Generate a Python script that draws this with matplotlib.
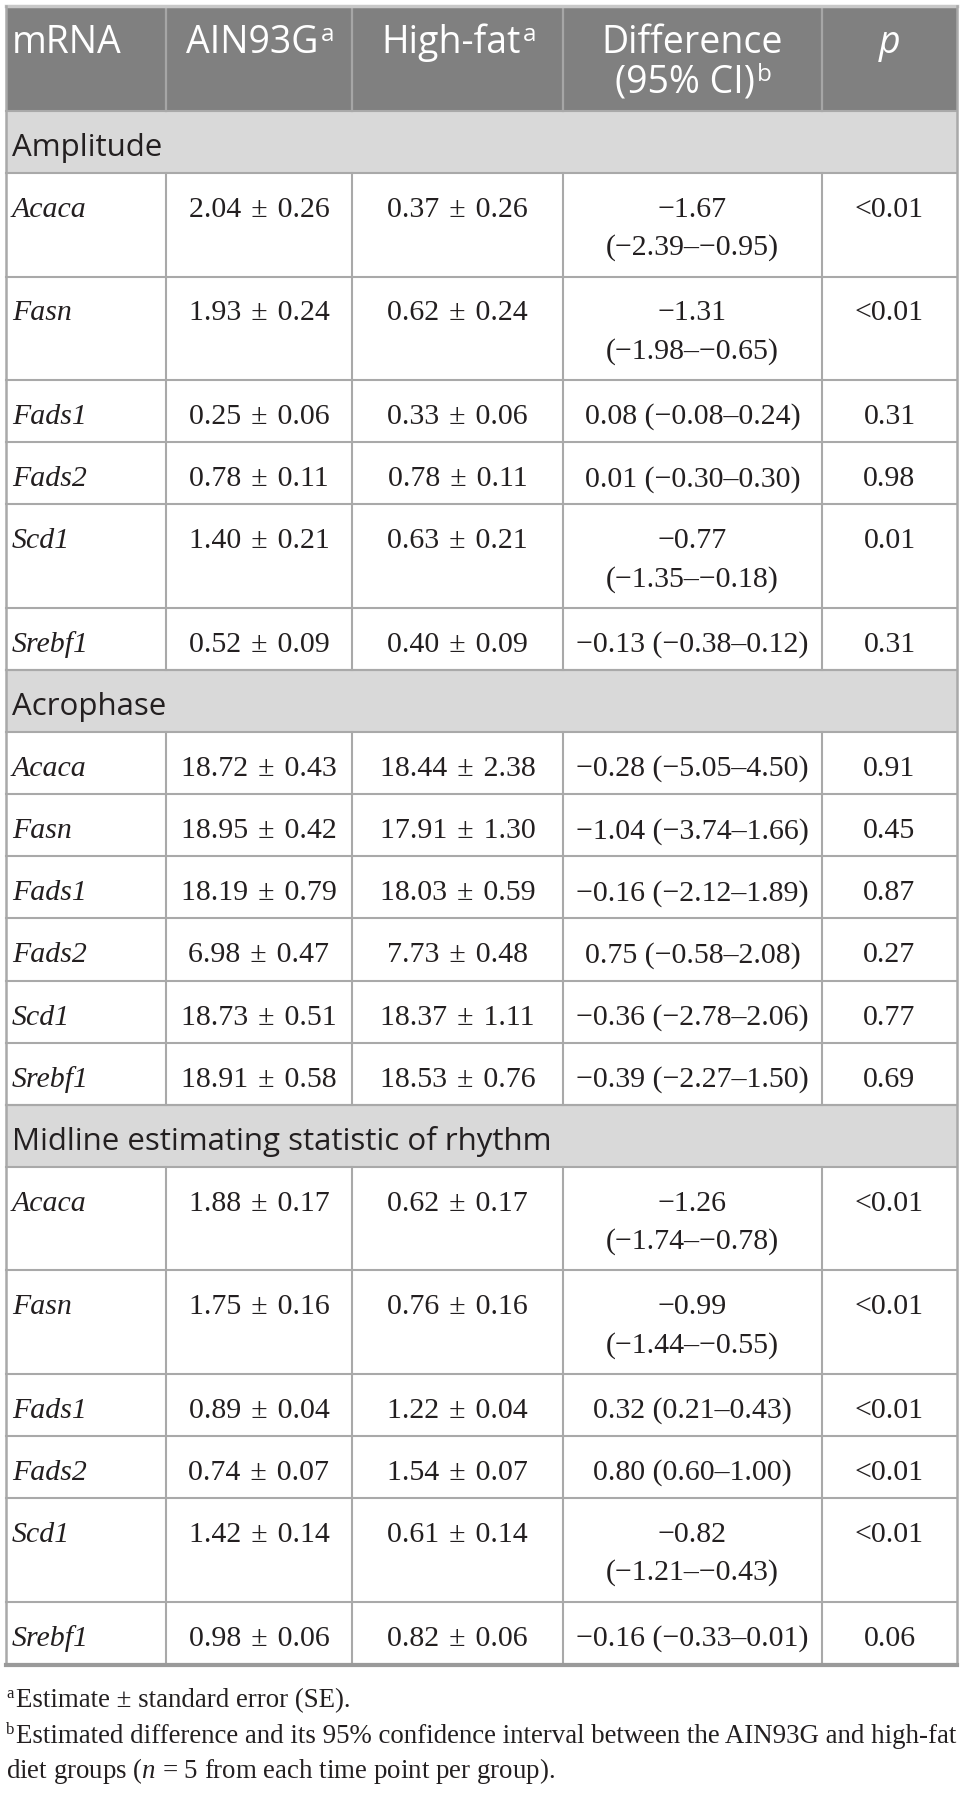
import matplotlib
matplotlib.use('Agg')
import matplotlib.pyplot as plt
from matplotlib.patches import Rectangle

plt.rcParams['mathtext.fontset'] = 'custom'
plt.rcParams['mathtext.rm'] = 'Liberation Serif'
plt.rcParams['mathtext.it'] = 'Liberation Serif:italic'

# table content
genes = ['Acaca', 'Fasn', 'Fads1', 'Fads2', 'Scd1', 'Srebf1']
sections = ['Amplitude', 'Acrophase', 'Midline estimating statistic of rhythm']
headers = ['mRNA', 'AIN93G', 'High-fat', 'Difference\n(95% CI)', 'p']
header_sups = ['', 'a', 'a', 'b', '']

amp_ain = [2.04, 1.93, 0.25, 0.78, 1.40, 0.52]
amp_ain_se = [0.26, 0.24, 0.06, 0.11, 0.21, 0.09]
amp_hf = [0.37, 0.62, 0.33, 0.78, 0.63, 0.40]
amp_hf_se = [0.26, 0.24, 0.06, 0.11, 0.21, 0.09]
amp_diff = [-1.67, -1.31, 0.08, 0.01, -0.77, -0.13]
amp_lo = [-2.39, -1.98, -0.08, -0.30, -1.35, -0.38]
amp_hi = [-0.95, -0.65, 0.24, 0.30, -0.18, 0.12]
amp_p = ['<0.01', '<0.01', '0.31', '0.98', '0.01', '0.31']

acr_ain = [18.72, 18.95, 18.19, 6.98, 18.73, 18.91]
acr_ain_se = [0.43, 0.42, 0.79, 0.47, 0.51, 0.58]
acr_hf = [18.44, 17.91, 18.03, 7.73, 18.37, 18.53]
acr_hf_se = [2.38, 1.30, 0.59, 0.48, 1.11, 0.76]
acr_diff = [-0.28, -1.04, -0.16, 0.75, -0.36, -0.39]
acr_lo = [-5.05, -3.74, -2.12, -0.58, -2.78, -2.27]
acr_hi = [4.50, 1.66, 1.89, 2.08, 2.06, 1.50]
acr_p = ['0.91', '0.45', '0.87', '0.27', '0.77', '0.69']

mid_ain = [1.88, 1.75, 0.89, 0.74, 1.42, 0.98]
mid_ain_se = [0.17, 0.16, 0.04, 0.07, 0.14, 0.06]
mid_hf = [0.62, 0.76, 1.22, 1.54, 0.61, 0.82]
mid_hf_se = [0.17, 0.16, 0.04, 0.07, 0.14, 0.06]
mid_diff = [-1.26, -0.99, 0.32, 0.80, -0.82, -0.16]
mid_lo = [-1.74, -1.44, 0.21, 0.60, -1.21, -0.33]
mid_hi = [-0.78, -0.55, 0.43, 1.00, -0.43, 0.01]
mid_p = ['<0.01', '<0.01', '<0.01', '<0.01', '<0.01', '0.06']

foot_a = 'Estimate \u00b1 standard error (SE).'
foot_b1 = 'Estimated difference and its 95% confidence interval between the AIN93G and high-fat'
foot_b2 = 'diet groups ($n$ = 5 from each time point per group).'

blocks = [
    (amp_ain, amp_ain_se, amp_hf, amp_hf_se, amp_diff, amp_lo, amp_hi, amp_p),
    (acr_ain, acr_ain_se, acr_hf, acr_hf_se, acr_diff, acr_lo, acr_hi, acr_p),
    (mid_ain, mid_ain_se, mid_hf, mid_hf_se, mid_diff, mid_lo, mid_hi, mid_p),
]

SANS = ['Open Sans', 'DejaVu Sans']
SERIF = ['Liberation Serif', 'DejaVu Serif']
txt_col = '#231f20'
head_bg = '#808080'
sec_bg = '#d9d9d9'
grid_col = '#a9a9a9'

cols = [6, 166, 352, 563, 822, 957]


def num(v):
    return f'{v:.2f}'.replace('-', '\u2212')


fig = plt.figure(figsize=(9.66, 17.93), dpi=100)
ax = fig.add_axes([0, 0, 1, 1])
ax.set_xlim(0, 966)
ax.set_ylim(1793, 0)
ax.axis('off')
renderer = fig.canvas.get_renderer()


def tw(s, **kw):
    t = ax.text(0, 0, s, **kw)
    w = t.get_window_extent(renderer).width
    t.remove()
    return w


# header
ax.add_patch(Rectangle((cols[0], 7), cols[-1] - cols[0], 104, fc=head_bg, ec='none', zorder=0))
head_kw = dict(family=SANS, fontsize=27, color='white')
sup_kw = dict(family=SANS, fontsize=17.5, color='white')
for i, h in enumerate(headers):
    lines = h.split('\n')
    for j, line in enumerate(lines):
        yb = 53 + j * 40
        kw = dict(head_kw)
        if h == 'p':
            kw['style'] = 'italic'
        sup = header_sups[i] if j == len(lines) - 1 else ''
        w = tw(line, **kw)
        ws = tw(sup, **sup_kw) if sup else 0
        if i == 0:
            x0 = 12
        else:
            x0 = (cols[i] + cols[i + 1]) / 2 - (w + ws) / 2
        ax.text(x0, yb, line, ha='left', va='baseline', **kw)
        if sup:
            ax.text(x0 + w + 2, yb - 12, sup, ha='left', va='baseline', **sup_kw)
for c in cols[1:-1]:
    ax.plot([c, c], [7, 111], color='#a6a6a6', lw=1.6, zorder=1)

# body
cell_kw = dict(family=SERIF, fontsize=21.5, color=txt_col)
S, D, SEC = 62.15, 103.5, 62
dcol_w = cols[4] - cols[3]
y = 111
for s, name in enumerate(sections):
    ain, ain_se, hf, hf_se, diff, lo, hi, pv = blocks[s]
    ax.add_patch(Rectangle((cols[0], y), cols[-1] - cols[0], SEC, fc=sec_bg, ec='none', zorder=0))
    ax.text(12, y + 45, name, family=SANS, fontsize=22.5, color=txt_col, va='baseline')
    ax.plot([cols[0], cols[-1]], [y, y], color=grid_col, lw=1.5)
    y += SEC
    ax.plot([cols[0], cols[-1]], [y, y], color=grid_col, lw=1.5)
    for g, gene in enumerate(genes):
        d_txt = f'{num(diff[g])} ({num(lo[g])}\u2013{num(hi[g])})'
        wrap = tw(d_txt, **cell_kw) > dcol_w - 20
        h = D if wrap else S
        yb = y + 44 if wrap else y + h / 2 + 13
        ax.text(12, yb, gene, ha='left', va='baseline', style='italic', **cell_kw)
        vals = [f'{num(ain[g])}\u2004\u00b1\u2004{num(ain_se[g])}',
                f'{num(hf[g])}\u2004\u00b1\u2004{num(hf_se[g])}']
        for k, v in enumerate(vals):
            ax.text((cols[k + 1] + cols[k + 2]) / 2, yb, v, ha='center', va='baseline', **cell_kw)
        dx = (cols[3] + cols[4]) / 2
        if wrap:
            ax.text(dx, yb, num(diff[g]), ha='center', va='baseline', **cell_kw)
            ax.text(dx, yb + 38, f'({num(lo[g])}\u2013{num(hi[g])})', ha='center', va='baseline', **cell_kw)
        else:
            ax.text(dx, yb, d_txt, ha='center', va='baseline', **cell_kw)
        ax.text((cols[4] + cols[5]) / 2, yb, pv[g], ha='center', va='baseline', **cell_kw)
        for c in cols[1:-1]:
            ax.plot([c, c], [y, y + h], color=grid_col, lw=1.5)
        y += h
        ax.plot([cols[0], cols[-1]], [y, y], color=grid_col, lw=1.5)

# outer border
ax.plot([cols[0], cols[-1]], [6, 6], color='#c8c8c8', lw=2.5)
ax.plot([cols[0], cols[0]], [6, y], color=grid_col, lw=1.8)
ax.plot([cols[-1], cols[-1]], [6, y], color=grid_col, lw=1.8)
ax.plot([cols[0], cols[-1]], [y + 1, y + 1], color='#9a9a9a', lw=3)

# footnotes
foot_kw = dict(family=SERIF, color=txt_col)
fs = 20 * 945 / tw(foot_b1, fontsize=20, **foot_kw)
fy = y + 43
ax.text(6, fy - 9, 'a', fontsize=fs * 0.62, va='baseline', **foot_kw)
ax.text(16, fy, foot_a, fontsize=fs, va='baseline', **foot_kw)
ax.text(6, fy + 36 - 9, 'b', fontsize=fs * 0.62, va='baseline', **foot_kw)
ax.text(16, fy + 36, foot_b1, fontsize=fs, va='baseline', **foot_kw)
ax.text(6, fy + 71, foot_b2, fontsize=fs, va='baseline', **foot_kw)

fig.savefig('out.png', dpi=100)
